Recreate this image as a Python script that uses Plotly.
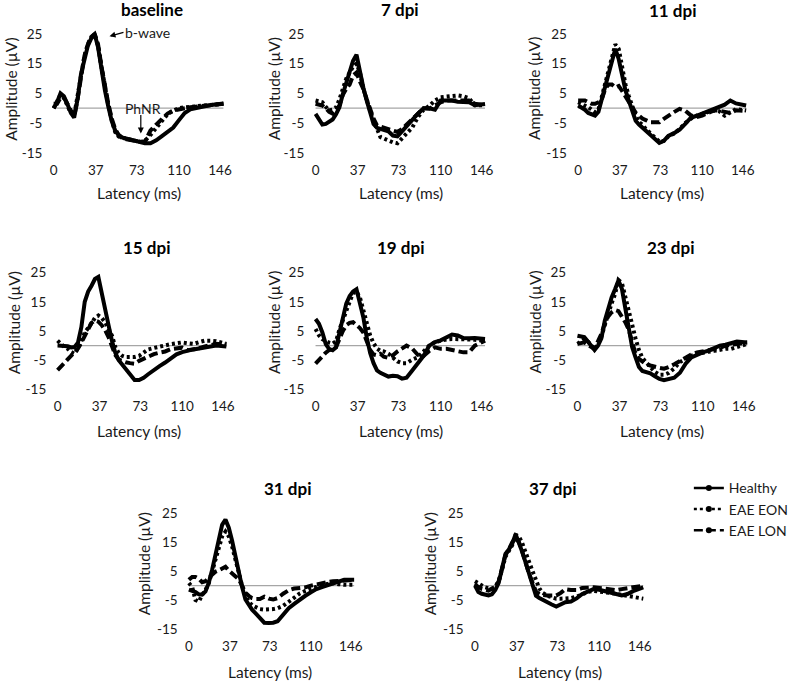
import plotly.graph_objects as go

# ---------------- data ----------------
LATENCY = [0, 3, 6, 9, 12, 15, 18, 21, 24, 27, 30, 33, 36, 39, 42, 45, 48, 51, 54, 57,
           60, 64, 68, 72, 76, 80, 85, 90, 95, 100, 105, 110, 115, 120, 125, 130, 135, 140, 149]

X_TICKS = [0, 37, 73, 110, 146]
Y_TICKS = [-15, -5, 5, 15, 25]
SERIES_NAMES = ["Healthy", "EAE EON", "EAE LON"]
PANEL_TITLES = ["baseline", "7 dpi", "11 dpi", "15 dpi", "19 dpi", "23 dpi", "31 dpi", "37 dpi"]

baseline_healthy = [0, 2, 5, 4, 1.5, -1.5, -3.2, 3, 11.5, 17, 21, 23.5, 25, 20.5, 13, 6, 0.5, -4.4, -7.5, -9,
                    -9.8, -10.2, -10.5, -10.8, -11.3, -11.8, -11.8, -10.8, -9.4, -8, -6.5, -4, -1.6, -0.4, 0, 0.5, 0.8, 1.2, 1.6]
baseline_eon = [0, 2.5, 4.5, 3.5, 1, -1.5, -2.5, 4, 12, 17.5, 21.5, 24, 24.5, 21, 14, 6.5, 1, -4, -8, -9.5,
                -10, -10.2, -10.5, -11, -11.5, -11, -9, -6.5, -4, -2, -0.8, 0, 0.3, 0.5, 0.6, 0.8, 1, 1.2, 1.5]
baseline_lon = [1.5, 1.5, 3.5, 3.5, 1.5, -1, -2.8, 3, 11, 17.5, 21.5, 24, 25, 21.5, 14, 7, 1.5, -3.5, -7, -9,
                -10, -10.5, -10.8, -11, -11.3, -11.2, -7.5, -5.5, -3.4, -1.8, -0.8, -0.3, 0, 0.3, 0.5, 0.7, 1, 1.2, 1.5]

dpi7_healthy = [-1.9, -3.5, -5.5, -5.3, -4.6, -3.8, -2, 0.3, 4.8, 8.5, 11.6, 16, 18, 12, 7, 2.5, -1.9, -5.3, -6.6, -7,
                -7.3, -7.8, -9.2, -9.5, -7.8, -6, -4, -1.8, 0, 0, -0.5, 2.6, 2.6, 2.6, 2.2, 2, 2, 1, 1.4]
dpi7_eon = [2.6, 2.3, 2, 0.5, -0.8, -0.5, 0.3, 3, 6.5, 10, 12, 14, 15, 12, 6.5, 2.6, -0.8, -4, -7, -9.7,
            -10.2, -10.9, -11.5, -11.8, -10.3, -8.8, -6.5, -3, -0.5, 0.8, 2.6, 3.7, 4, 4.3, 4.3, 4, 3.3, 1, 1]
dpi7_lon = [1.5, 1.2, 0.9, 0, -1.2, -1.8, -0.8, 1, 4.5, 6.5, 8, 11, 12, 9, 6.5, 3, -0.8, -3.5, -5.8, -6.2,
            -6.4, -6.8, -7.5, -8, -7, -5.5, -4, -2, 0, -0.2, 1, 2, 2.6, 2.6, 2.6, 2.6, 2.6, 1.5, 1]

dpi11_healthy = [0.9, 0.3, -0.5, -1.6, -2.2, -2.5, -1.2, 3, 7.5, 11.5, 16.5, 20, 16.5, 11, 6, 2.5, -0.5, -4.2, -5.5, -6.5,
                 -7.5, -8.8, -10.2, -11.7, -11, -9.3, -8.4, -7.2, -5.3, -3.2, -2.6, -1.8, -1, -0.2, 0.5, 1.2, 2.6, 1.6, 0.9]
dpi11_eon = [2, 1.5, 0.8, 0.3, -0.5, -1.3, -0.5, 4, 8.5, 13, 16.5, 21.5, 20, 13, 8, 4, 0.3, -2.5, -4.7, -5.5,
             -7, -8.5, -10, -11.2, -11, -9.5, -8.5, -7, -5, -3.5, -2.5, -1.8, -1.3, -0.8, -1, -2.5, -1.3, -0.3, -0.8]
dpi11_lon = [2.6, 2.6, 2.6, 2, 1.5, 1.5, 2, 3, 6.5, 8, 8, 7, 7.5, 5.8, 4, 2, 0.5, -1.5, -2.5, -3.5,
             -4, -4.7, -4.7, -4.7, -3.6, -2.5, -1.3, -0.2, -0.8, -2.4, -3, -2.5, -1.7, -0.8, -0.8, -1.2, -1.6, -0.7, -1]

dpi15_healthy = [0, 0, 0, -0.2, -0.6, -0.5, 1, 6.3, 15, 18.5, 20.5, 22.8, 23.5, 17.6, 12.5, 7, 1.7, -2.5, -5, -6.5,
                 -7.5, -9.5, -11.8, -11.8, -11, -9.8, -8.2, -7, -5.8, -4.2, -3, -2.2, -1.6, -1.3, -1, -0.7, -0.4, 0, -0.3]
dpi15_eon = [1.7, 0.5, -0.5, -1.1, -2.2, -2.8, -1, 1.5, 4.5, 6, 7.8, 9.5, 10.3, 9.5, 8, 5.5, 3.5, -0.5, -2.5, -3.5,
             -3.9, -3.9, -3.9, -3.5, -2.2, -1.3, -0.8, -0.3, 0, 0.5, 0.8, 1.1, 0.8, 0.6, 1.2, 1.7, 1.7, 1.5, 0.6]
dpi15_lon = [-8.4, -7.2, -6, -4.8, -3.6, -2.4, -1, 1, 3.5, 6, 7.8, 8.6, 8.2, 7, 5.3, 2.9, -0.5, -3.2, -4.8, -5.3,
             -5.7, -6, -6.2, -5.2, -4.4, -3.7, -2.9, -2.4, -2, -1.2, -0.8, -0.7, -1.6, -1.3, -0.9, -0.3, 0.2, 0.6, 0.3]

dpi19_healthy = [9.1, 7.5, 4.5, 0.5, -1.2, -1.6, -0.6, 4.5, 9.8, 14.4, 17, 18.5, 19.3, 15, 9.7, 2.8, -2.5, -6, -8.5, -9.3,
                 -9.8, -10.6, -10.3, -10.5, -11.3, -11, -8.5, -6.2, -3.5, 0, 1.2, 1.8, 2.8, 3.8, 3.5, 2.6, 2.5, 2.6, 2.3]
dpi19_eon = [5.7, 3.5, 2.2, 1.5, 1, 0.7, 1.5, 5.5, 9, 11.5, 15, 18, 18.5, 16.5, 11.9, 7.5, 3.5, 0.8, -1, -1.8,
             -2, -2.8, -4.2, -5.4, -6, -6, -4.8, -4, -2, 0, 1.2, 1.7, 2.1, 2.3, 2.3, 2.3, 2.3, 2, 1.7]
dpi19_lon = [-6.2, -4.8, -3.6, -2.4, -1.5, -1.2, -0.5, 2.5, 5, 7, 7.8, 8, 7, 6, 4.5, 1.7, -1.5, -3, -3.3, -2.8,
             -3.8, -4.2, -3.3, -2, -0.8, 0, -1, -3.2, -3.5, -1.8, -0.6, -1.1, -1.1, -1.6, -2, -2.3, -2.3, 0, 1.7]

dpi23_healthy = [3.4, 3.2, 2.9, 1.5, 0, -1.5, 0, 2.5, 8.5, 13, 16.5, 19.3, 22.3, 19.5, 12.5, 5, -0.5, -4, -7.3, -8.7,
                 -9, -9.5, -10.5, -11.4, -11.8, -11.5, -11, -9.3, -6.2, -4, -3, -2.3, -1.7, -1, 0, 0.3, 0.8, 1.4, 1.1]
dpi23_eon = [0.6, 1.5, 2.2, 1.5, 0, -1.2, 0.5, 3, 7, 11, 14.5, 17.6, 22.5, 21.5, 16.5, 11.5, 6.2, 2.5, -1.5, -4.2,
             -5.6, -7.5, -9, -10, -10, -9.4, -7.8, -5.6, -4.4, -3.5, -2.8, -2.3, -2.1, -1.8, -1.4, -1.1, -1.1, -0.4, 0.6]
dpi23_lon = [0.6, 0.9, 1.1, 0.3, -0.6, -1.1, 1.5, 4, 7.5, 10, 11.4, 12.2, 11.8, 10, 8, 5.5, 1, -2.8, -4.5, -5.6,
             -6.3, -6.8, -7.3, -7.6, -7.9, -7.4, -6.4, -5.3, -4, -3, -2.3, -1.8, -1.6, -1.2, -0.8, 0, 0.3, 0.7, 1.1]

dpi31_healthy = [-1.4, -1.7, -2.2, -3, -3.1, -2, 1, 5.5, 11, 16.5, 21, 22.8, 20, 15.5, 9.8, 4.5, -0.5, -4.8, -6.8, -8.3,
                 -9.5, -11.2, -12.8, -12.9, -12.8, -12.3, -9.8, -7.8, -6.3, -4.8, -3.5, -2.3, -1.2, -0.5, 0.2, 0.8, 1.5, 2, 2]
dpi31_eon = [0.9, -0.5, -5, -5.5, -3.2, -1.5, 0.9, 4.8, 9.5, 13.8, 17, 18.7, 17, 13.5, 8.5, 4, 0, -3.5, -5.5, -6.8,
             -7.5, -8.1, -8.3, -8.3, -8.1, -7.8, -7, -5.6, -4, -2.7, -1.8, -1, -0.2, 0.3, 0.6, 0.9, 0.5, 0.3, 0.3]
dpi31_lon = [2, 3, 3, 2.4, 1.2, 1.5, 2.8, 4, 4.8, 5.3, 6, 6.5, 5.2, 4.3, 3.5, 2.2, 0, -2.5, -3.5, -4.3,
             -4.6, -4.6, -3.8, -4.5, -4.8, -4.3, -2.8, -1.6, -1, -0.8, -0.6, 0, 0.5, 0.9, 1.2, 1.5, 1.7, 1.9, 2]

dpi37_healthy = [0, -2.2, -2.8, -3.2, -3.4, -3, -1.5, 1, 5.5, 11, 12.5, 14.5, 17.8, 15, 11.5, 7.8, 4.3, 0.5, -3.5, -4.3,
                 -5, -5.7, -6.5, -7.2, -6.5, -5.7, -5.5, -4.4, -2.9, -1.9, -1.2, -1.4, -2, -2.5, -2.9, -3.4, -2.9, -1.9, -0.6]
dpi37_eon = [1.5, 0.8, -0.2, -0.6, -0.9, -1.1, -0.3, 1.5, 5.5, 10, 12, 14, 17.5, 17, 14.5, 11, 7.5, 5, 2, -1,
             -2.5, -3.5, -4, -4.5, -4.5, -4.5, -4.3, -3.8, -3, -2.2, -1.8, -2, -2.3, -2.6, -2.8, -3.2, -3.6, -4, -4.5]
dpi37_lon = [0.6, -0.5, -1.1, -1.5, -1.7, -1, -0.5, 1.5, 6, 10.5, 12.5, 15, 16.5, 15, 11.5, 7.5, 4, 1, -2, -3,
             -3.3, -3.4, -3.4, -3.4, -2.5, -1.2, -1.5, -1.5, -0.8, -0.6, -0.6, -0.8, -1.1, -1.5, -1.6, -1.2, -0.8, -0.5, 0]

PANEL_DATA = [
    (baseline_healthy, baseline_eon, baseline_lon),
    (dpi7_healthy, dpi7_eon, dpi7_lon),
    (dpi11_healthy, dpi11_eon, dpi11_lon),
    (dpi15_healthy, dpi15_eon, dpi15_lon),
    (dpi19_healthy, dpi19_eon, dpi19_lon),
    (dpi23_healthy, dpi23_eon, dpi23_lon),
    (dpi31_healthy, dpi31_eon, dpi31_lon),
    (dpi37_healthy, dpi37_eon, dpi37_lon),
]

# ---------------- layout geometry (pixels) ----------------
W, H = 793, 681
# (pixel of x=0, pixel of x=146, pixel of y=25, pixel of y=-15)
GEOM = [
    (52.7, 222.5, 33, 152), (320, 489.5, 33, 152), (588, 756, 33, 152),
    (56.7, 225.5, 272, 389), (320, 489.5, 272, 389), (587.3, 757, 272, 389),
    (190.7, 356, 513, 629), (482.7, 651, 513, 629),
]
TITLE_POS = [(153, 9), (406, 9), (684, 10), (147, 247), (407, 247), (682, 247), (291, 488), (562, 488)]
YTITLE_POS = [(9, 88), (277, 88), (543, 88), (12, 322), (277, 322), (543, 322), (145, 564), (437, 564)]
XTITLE_POS = [(140, 192), (407, 192), (674, 192), (140, 431), (407, 431), (674, 431), (274, 672), (570, 672)]

XR = [-2, 151]
YR = [-17.5, 27.5]
FONT = "Lato, 'Open Sans', sans-serif"
TXT = "#1a1a1a"

STYLES = [
    dict(color="black", width=4),
    dict(color="black", width=4, dash="3px,3px"),
    dict(color="black", width=4, dash="9px,4px"),
]

fig = go.Figure()
layout_axes = {}
annotations = []
shapes = []

for i, (series, geom) in enumerate(zip(PANEL_DATA, GEOM)):
    n = i + 1
    sfx = "" if n == 1 else str(n)
    x0, x146, y25, ym15 = geom
    ppm = (x146 - x0) / 146.0
    ppu = (ym15 - y25) / 40.0
    xl = x0 + XR[0] * ppm
    xr = x0 + XR[1] * ppm
    yt = y25 - (YR[1] - 25) * ppu
    yb = ym15 + (-15 - YR[0]) * ppu

    layout_axes["xaxis" + sfx] = dict(
        domain=[xl / W, xr / W], range=XR, anchor="y" + sfx,
        tickvals=X_TICKS, ticktext=[str(v) for v in X_TICKS],
        showgrid=False, zeroline=False, showline=False, ticks="",
        tickfont=dict(family=FONT, size=13.5, color=TXT), fixedrange=True,
    )
    layout_axes["yaxis" + sfx] = dict(
        domain=[1 - yb / H, 1 - yt / H], range=YR, anchor="x" + sfx,
        tickvals=Y_TICKS, ticktext=[str(v) for v in Y_TICKS],
        showgrid=False, zeroline=False, showline=False, ticks="",
        ticklabelstandoff=8,
        tickfont=dict(family=FONT, size=13.5, color=TXT), fixedrange=True,
    )

    shapes.append(dict(type="line", xref="x" + sfx, yref="y" + sfx, x0=0, x1=LATENCY[-1],
                       y0=0, y1=0, line=dict(color="#a6a6a6", width=1.2), layer="below"))

    for name, vals, st in zip(SERIES_NAMES, series, STYLES):
        fig.add_trace(go.Scatter(x=LATENCY, y=vals, mode="lines", line=st, name=name,
                                 xaxis="x" + sfx, yaxis="y" + sfx, showlegend=False,
                                 hoverinfo="skip"))

    tx, ty = TITLE_POS[i]
    annotations.append(dict(text="<b>%s</b>" % PANEL_TITLES[i], x=tx / W, y=1 - ty / H,
                            xref="paper", yref="paper", showarrow=False,
                            xanchor="center", yanchor="middle",
                            font=dict(family=FONT, size=17, color="black")))
    ax_, ay_ = YTITLE_POS[i]
    annotations.append(dict(text="Amplitude (µV)", x=ax_ / W, y=1 - ay_ / H,
                            xref="paper", yref="paper", showarrow=False, textangle=-90,
                            xanchor="center", yanchor="middle",
                            font=dict(family=FONT, size=15.5, color=TXT)))
    lx, ly = XTITLE_POS[i]
    annotations.append(dict(text="Latency (ms)", x=lx / W, y=1 - ly / H,
                            xref="paper", yref="paper", showarrow=False,
                            xanchor="center", yanchor="middle",
                            font=dict(family=FONT, size=15.5, color=TXT)))

# baseline labels
annotations.append(dict(text="b-wave", x=49, y=24.2, xref="x", yref="y", ax=14, ay=-4,
                        showarrow=True, arrowhead=2, arrowsize=1, arrowwidth=1.2, arrowcolor="black",
                        xanchor="left", yanchor="middle", standoff=0,
                        font=dict(family=FONT, size=14, color=TXT)))
annotations.append(dict(text="PhNR", x=78, y=0, xref="x", yref="y", showarrow=False,
                        xanchor="center", yanchor="middle",
                        font=dict(family=FONT, size=14, color=TXT)))
annotations.append(dict(text="", x=76.5, y=-8.5, xref="x", yref="y", ax=0, ay=-20,
                        showarrow=True, arrowhead=2, arrowsize=1, arrowwidth=1.2, arrowcolor="black"))

# legend entries
for name, st in zip(SERIES_NAMES, STYLES):
    fig.add_trace(go.Scatter(x=[None], y=[None], mode="lines+markers", name=name,
                             line=dict(color="black", width=2.5, dash=st.get("dash")),
                             marker=dict(symbol="circle", size=6, color="black"),
                             showlegend=True, hoverinfo="skip"))

fig.update_layout(
    width=W, height=H, margin=dict(l=0, r=0, t=0, b=0),
    paper_bgcolor="white", plot_bgcolor="white",
    font=dict(family=FONT, color=TXT),
    showlegend=True,
    legend=dict(x=701 / W, y=1 - 472 / H, xanchor="left", yanchor="top",
                font=dict(family=FONT, size=14, color=TXT), bgcolor="rgba(0,0,0,0)",
                tracegroupgap=4),
    annotations=annotations, shapes=shapes,
    **layout_axes,
)

fig.write_html("out.html", config={"displayModeBar": False},
               post_script="document.body.style.margin='0';document.body.style.padding='0';")
